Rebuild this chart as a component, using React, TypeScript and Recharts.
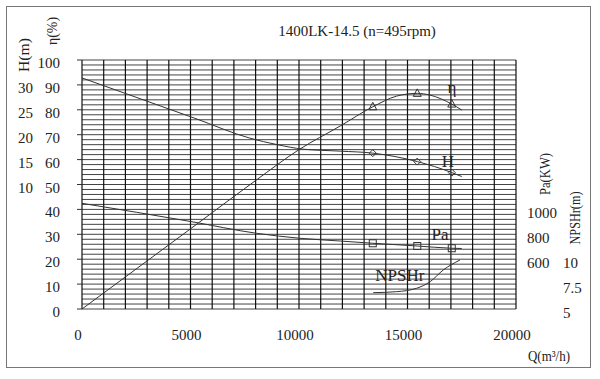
import { CartesianGrid, ComposedChart, Line, ReferenceDot, XAxis, YAxis } from "recharts";

const FONT = '"Liberation Serif", "DejaVu Serif", serif';
const INK = "#222";

// efficiency η (%)
const ETA_Q = [0, 5000, 8000, 10000, 11900, 13400, 14500, 15450, 16040, 17040, 17500];
const ETA_V = [0, 32.2, 51.6, 64, 73.5, 81.2, 85.5, 86.6, 85.9, 82.3, 79.9];

// head H (m)
const H_Q = [0, 5200, 7740, 9000, 10180, 11900, 13400, 15450, 17040, 17500];
const H_V = [31.4, 23.3, 19.3, 18.0, 17.1, 16.7, 16.3, 14.6, 12.4, 11.6];

// shaft power Pa (KW)
const PA_Q = [0, 5000, 8050, 10050, 11900, 13400, 15450, 17040, 17500];
const PA_V = [1049, 903, 808, 768, 746, 728, 706, 688, 686];

// NPSHr (m)
const NPSH_Q = [13420, 14500, 15420, 16040, 16650, 17420];
const NPSH_V = [6.64, 6.74, 7.08, 7.74, 8.92, 9.92];

// duty points that carry a marker
const MARK_Q = [13400, 15450, 17040];

const X_LABELS = [0, 5000, 10000, 15000, 20000];
const ETA_LABELS = [0, 10, 20, 30, 40, 50, 60, 70, 80, 90, 100];
const H_LABELS = [10, 15, 20, 25, 30];
const PA_LABELS = [600, 800, 1000];
const NPSH_LABELS = [5, 7.5, 10];

// grid every 1000 m³/h and every 2 %
const X_GRID = Array.from({ length: 21 }, (_, i) => i * 1000);
const ETA_GRID = Array.from({ length: 51 }, (_, i) => i * 2);

const zip = (qs: number[], vs: number[]) => qs.map((q, i) => ({ q, v: vs[i] }));
const etaData = zip(ETA_Q, ETA_V);
const hData = zip(H_Q, H_V);
const paData = zip(PA_Q, PA_V);
const npshData = zip(NPSH_Q, NPSH_V);

const isMark = (q: number) => MARK_Q.includes(q);

function triDot(p: any) {
  const { cx, cy, payload, index } = p;
  if (!isMark(payload.q)) return <g key={index} />;
  return (
    <path
      key={index}
      d={`M${cx},${cy - 4.5} L${cx + 4},${cy + 3} L${cx - 4},${cy + 3} Z`}
      fill="none"
      stroke="#333"
    />
  );
}

function diamondDot(p: any) {
  const { cx, cy, payload, index } = p;
  if (!isMark(payload.q)) return <g key={index} />;
  return (
    <path
      key={index}
      d={`M${cx},${cy - 3.5} L${cx + 3.5},${cy} L${cx},${cy + 3.5} L${cx - 3.5},${cy} Z`}
      fill="none"
      stroke="#333"
    />
  );
}

function squareDot(p: any) {
  const { cx, cy, payload, index } = p;
  if (!isMark(payload.q)) return <g key={index} />;
  return <rect key={index} x={cx - 3.5} y={cy - 3.5} width={7} height={7} fill="none" stroke="#333" />;
}

const txt = { fontFamily: FONT, fontSize: 15, fill: INK };

function xTick(p: any) {
  const v = p.payload.value;
  if (!X_LABELS.includes(v)) return <g />;
  return (
    <text x={p.x - 4} y={340} textAnchor="middle" {...txt}>
      {v}
    </text>
  );
}

function etaTick(p: any) {
  const v = p.payload.value;
  if (!ETA_LABELS.includes(v)) return <g />;
  return (
    <g>
      <line x1={77} x2={82} y1={p.y} y2={p.y} stroke="#333" />
      <text x={60} y={p.y + 8} textAnchor="end" {...txt}>
        {v}
      </text>
    </g>
  );
}

function hTick(p: any) {
  return (
    <text x={33} y={p.y + 8} textAnchor="end" {...txt}>
      {p.payload.value}
    </text>
  );
}

function paTick(p: any) {
  return (
    <text x={527} y={p.y + 9} textAnchor="start" {...txt}>
      {p.payload.value}
    </text>
  );
}

function npshTick(p: any) {
  return (
    <text x={563} y={p.y + 9} textAnchor="start" {...txt}>
      {p.payload.value}
    </text>
  );
}

const curveLabel = (value: string) => ({
  value,
  position: "center" as const,
  fontSize: 17,
  fontFamily: FONT,
  fill: INK,
});

const sideLabel = { fontFamily: FONT, fontSize: 14, fill: INK, lengthAdjust: "spacingAndGlyphs" };

export default function App() {
  return (
    <div style={{ position: "absolute", left: 0, top: 0, width: 600, height: 379, background: "#fff" }}>
      <div
        style={{
          position: "absolute",
          left: 6,
          top: 6,
          width: 583,
          height: 360,
          border: "1.5px solid #777",
        }}
      />
      <ComposedChart width={600} height={379} margin={{ top: 60, right: 24, bottom: 40, left: 22 }}>
        <XAxis
          type="number"
          dataKey="q"
          domain={[0, 20000]}
          ticks={X_GRID}
          interval={0}
          height={30}
          axisLine={false}
          tickLine={false}
          tick={xTick}
          allowDataOverflow
        />
        <YAxis yAxisId="eta" width={30} domain={[0, 100]} ticks={ETA_GRID} interval={0} axisLine={false} tickLine={false} tick={etaTick} />
        <YAxis yAxisId="h" width={30} domain={[-15, 35]} ticks={H_LABELS} interval={0} axisLine={false} tickLine={false} tick={hTick} />
        <YAxis yAxisId="pa" orientation="right" width={30} domain={[200, 2200]} ticks={PA_LABELS} interval={0} axisLine={false} tickLine={false} tick={paTick} />
        <YAxis yAxisId="npsh" orientation="right" width={30} domain={[5, 30]} ticks={NPSH_LABELS} interval={0} axisLine={false} tickLine={false} tick={npshTick} />
        <CartesianGrid yAxisId="eta" vertical={false} stroke="#444" strokeWidth={1} />
        <CartesianGrid yAxisId="eta" horizontal={false} stroke="#111" strokeWidth={1.2} />

        <Line data={etaData} dataKey="v" yAxisId="eta" type="monotone" stroke="#333" strokeWidth={1} dot={triDot} activeDot={false} isAnimationActive={false} />
        <Line data={hData} dataKey="v" yAxisId="h" type="monotone" stroke="#333" strokeWidth={1} dot={diamondDot} activeDot={false} isAnimationActive={false} />
        <Line data={paData} dataKey="v" yAxisId="pa" type="monotone" stroke="#333" strokeWidth={1} dot={squareDot} activeDot={false} isAnimationActive={false} />
        <Line data={npshData} dataKey="v" yAxisId="npsh" type="monotone" stroke="#333" strokeWidth={1} dot={false} activeDot={false} isAnimationActive={false} />

        <ReferenceDot x={17050} y={89} yAxisId="eta" r={0} stroke="none" label={curveLabel("η")} />
        <ReferenceDot x={16865} y={14.7} yAxisId="h" r={0} stroke="none" label={curveLabel("H")} />
        <ReferenceDot x={16500} y={802} yAxisId="pa" r={0} stroke="none" label={curveLabel("Pa")} />
        <ReferenceDot x={14650} y={8.4} yAxisId="npsh" r={0} stroke="none" label={curveLabel("NPSHr")} />

        <text x={357} y={36} textAnchor="middle" {...txt}>
          1400LK-14.5 (n=495rpm)
        </text>
        <text x={24} y={55} transform="rotate(-90 24 55)" textAnchor="middle" dominantBaseline="central" textLength={34} {...sideLabel}>
          H(m)
        </text>
        <text x={52} y={31} transform="rotate(-90 52 31)" textAnchor="middle" dominantBaseline="central" textLength={28} {...sideLabel}>
          η(%)
        </text>
        <text x={545} y={174} transform="rotate(-90 545 174)" textAnchor="middle" dominantBaseline="central" textLength={42} {...sideLabel}>
          Pa(KW)
        </text>
        <text x={575} y={218} transform="rotate(-90 575 218)" textAnchor="middle" dominantBaseline="central" textLength={53} {...sideLabel}>
          NPSHr(m)
        </text>
        <text x={549} y={361} textAnchor="middle" textLength={42} {...sideLabel}>
          Q(m³/h)
        </text>
      </ComposedChart>
    </div>
  );
}
